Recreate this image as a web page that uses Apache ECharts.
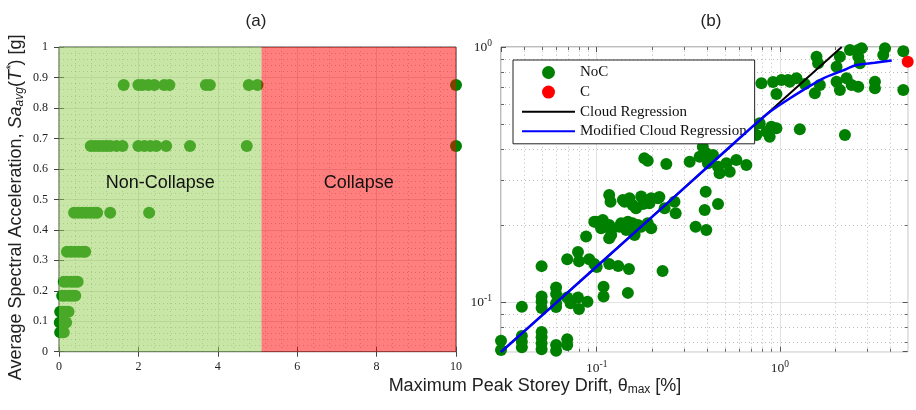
<!DOCTYPE html>
<html>
<head>
<meta charset="utf-8">
<script src="https://cdn.jsdelivr.net/npm/echarts@6/dist/echarts.min.js"></script>
<style>
  html, body { margin: 0; padding: 0; background: #ffffff; }
  #chart { width: 916px; height: 410px; }
</style>
</head>
<body>
<div id="chart"></div>
<script>
// ---------- Panel (a): stripe analysis, Sa levels and the drifts reached at each ----------
const saLevels = [0.0636, 0.096, 0.131, 0.1836, 0.2295, 0.328, 0.456, 0.675, 0.875];
const driftsAtLevel = [
  [0.03, 0.08, 0.12],
  [0.02, 0.07, 0.12, 0.18],
  [0.03, 0.08, 0.13, 0.19, 0.24],
  [0.08, 0.15, 0.25, 0.33, 0.41],
  [0.12, 0.2, 0.3, 0.38, 0.47],
  [0.2, 0.3, 0.4, 0.5, 0.6, 0.66],
  [0.38, 0.48, 0.58, 0.68, 0.78, 0.88, 0.96, 1.29, 2.27],
  [0.8, 0.9, 1.0, 1.1, 1.2, 1.3, 1.45, 1.6, 2.0, 2.15, 2.3, 2.45, 2.7, 3.3, 4.73, 10],
  [1.63, 2.0, 2.1, 2.25, 2.4, 2.65, 2.78, 3.7, 3.8, 4.78, 5.0, 10]
];
const collapseLimit = 5.1;   // drift [%] separating the two regions
const driftTicksA = [0, 10, 2]; // min, max, step

// ---------- Panel (b): cloud analysis ----------
const nocDrift = [
  0.030, 0.030, 0.039, 0.039, 0.039, 0.050, 0.050, 0.050, 0.050, 0.060, 0.060, 0.069, 0.069,
  0.039, 0.050, 0.050, 0.050, 0.060, 0.060, 0.060, 0.060, 0.069, 0.072, 0.079, 0.080, 0.089, 0.109, 0.109, 0.148,
  0.050, 0.069, 0.079, 0.080, 0.091, 0.097, 0.100, 0.117, 0.131, 0.150, 0.229,
  0.0875, 0.0993, 0.108, 0.1057, 0.1125, 0.120, 0.117, 0.120, 0.133, 0.136, 0.145, 0.148, 0.154, 0.157,
  0.161, 0.161, 0.168, 0.175, 0.190, 0.1985, 0.117, 0.097, 0.347, 0.397,
  0.117, 0.119, 0.139, 0.142, 0.151, 0.157, 0.164, 0.175, 0.179, 0.194, 0.1985, 0.216, 0.220, 0.235,
  0.266, 0.270, 0.394, 0.389, 0.46,
  0.182, 0.190, 0.240, 0.322, 0.365, 0.380, 0.397, 0.432, 0.405, 0.46, 0.511, 0.579, 0.657, 0.469, 0.533,
  0.714, 0.777, 0.746, 0.846, 0.959, 0.881, 0.90, 1.287, 2.27,
  0.794, 0.919, 1.022, 1.11, 1.234, 1.134, 0.959, 1.37, 1.555, 1.656, 2.043, 2.13, 2.317, 2.47, 2.685,
  3.311, 3.311, 4.73,
  1.588, 1.62, 2.043, 2.13, 2.417, 2.685, 2.80, 2.685, 2.742, 3.756, 3.677, 4.73
];
const nocSa = [
  0.0707, 0.065, 0.0738, 0.070, 0.0666, 0.0765, 0.0729, 0.0691, 0.0654, 0.068, 0.0645, 0.0716, 0.068,
  0.0961, 0.1052, 0.1005, 0.095, 0.1142, 0.1078, 0.0991, 0.0958, 0.1044, 0.0991, 0.1044, 0.094, 0.1005, 0.1151, 0.1052, 0.1088,
  0.1385, 0.1474, 0.1574, 0.1448, 0.1474, 0.1412, 0.1375, 0.1412, 0.1387, 0.135, 0.1325,
  0.181, 0.2069, 0.2101, 0.195, 0.1977, 0.192, 0.178, 0.1835, 0.1977, 0.2039, 0.192, 0.2069, 0.192, 0.2039,
  0.189, 0.1835, 0.2008, 0.1977, 0.2039, 0.195, 0.2008, 0.2069, 0.1977, 0.192,
  0.263, 0.2478, 0.2516, 0.2478, 0.2555, 0.2405, 0.2334, 0.2593, 0.2427, 0.2442, 0.2555, 0.2555, 0.2585, 0.2334,
  0.2478, 0.2232, 0.2711, 0.2298, 0.2427,
  0.3665, 0.3584, 0.348, 0.3553, 0.3718, 0.407, 0.3834, 0.3776, 0.3503, 0.3397, 0.3503, 0.3607, 0.345, 0.320, 0.3248,
  0.4873, 0.5025, 0.452, 0.466, 0.480, 0.445, 0.4873, 0.476, 0.452,
  0.721, 0.729, 0.743, 0.743, 0.754, 0.731, 0.654, 0.716, 0.659, 0.710, 0.731, 0.679, 0.754, 0.710, 0.699,
  0.731, 0.689, 0.679,
  0.916, 0.863, 0.837, 0.916, 0.973, 0.973, 0.988, 0.916, 0.863, 0.988, 0.930, 0.962
];
const colDrift = [5.0];
const colSa = [0.876];

const cloudDrift = [0.03, 2.18];
const cloudSa = [0.0638, 1.0];
const modDrift = [0.03, 0.1, 0.3, 0.6, 0.88, 1.1, 1.34, 1.73, 2.2, 2.63, 3.3, 4.09];
const modSa = [0.0638, 0.138, 0.28, 0.438, 0.556, 0.62, 0.678, 0.754, 0.808, 0.85, 0.867, 0.886];

const logXRange = [0.03, 5];
const logYRange = [0.064, 1];
const minorDrift = [0.04, 0.05, 0.06, 0.07, 0.08, 0.09, 0.2, 0.3, 0.4, 0.5, 0.6, 0.7, 0.8, 0.9, 2, 3, 4];
const minorSa = [0.07, 0.08, 0.09, 0.2, 0.3, 0.4, 0.5, 0.6, 0.7, 0.8, 0.9];

// ---------- styling ----------
const SERIF = '"Liberation Serif", "Times New Roman", serif';
const SANS = '"Liberation Sans", Arial, Helvetica, sans-serif';
const INK = '#222222';
const DARK_GREEN = 'rgb(0,128,0)';
const LINE_ICON = 'path://M0,0H100V4H0Z';

const leftPoints = [];
saLevels.forEach((sa, i) => driftsAtLevel[i].forEach(d => leftPoints.push([d, sa])));
const zip = (xs, ys) => xs.map((x, i) => [x, ys[i]]);

function powerLabel(v) {
  const e = Math.log10(v);
  const r = Math.round(e);
  if (Math.abs(e - r) > 1e-6) return '';
  return '10{sup|' + r + '}';
}
const powerRich = { sup: { fontFamily: SERIF, fontSize: 9.5, color: INK, padding: [0, 0, 8, 0] } };

const crisp = v => Math.round(v) + 0.5;

// dotted minor grid and inward minor ticks for the log–log panel
function minorVertical(params, api) {
  const v = api.value(0);
  const a = api.coord([v, logYRange[0]]);
  const b = api.coord([v, logYRange[1]]);
  const x = crisp(a[0]);
  return {
    type: 'group',
    children: [
      { type: 'line', shape: { x1: x, y1: a[1], x2: x, y2: b[1] }, style: { stroke: '#bdbdbd', lineWidth: 1, lineDash: [1, 3] } },
      { type: 'line', shape: { x1: x, y1: a[1], x2: x, y2: a[1] - 3 }, style: { stroke: '#666', lineWidth: 1 } },
      { type: 'line', shape: { x1: x, y1: b[1], x2: x, y2: b[1] + 3 }, style: { stroke: '#666', lineWidth: 1 } }
    ]
  };
}
function minorHorizontal(params, api) {
  const v = api.value(1);
  const a = api.coord([logXRange[0], v]);
  const b = api.coord([logXRange[1], v]);
  const y = crisp(a[1]);
  return {
    type: 'group',
    children: [
      { type: 'line', shape: { x1: a[0], y1: y, x2: b[0], y2: y }, style: { stroke: '#bdbdbd', lineWidth: 1, lineDash: [1, 3] } },
      { type: 'line', shape: { x1: a[0], y1: y, x2: a[0] + 3, y2: y }, style: { stroke: '#666', lineWidth: 1 } },
      { type: 'line', shape: { x1: b[0], y1: y, x2: b[0] - 3, y2: y }, style: { stroke: '#666', lineWidth: 1 } }
    ]
  };
}

const tickOnly = { show: false };
const linAxisA = (pos) => ({
  gridIndex: 0, type: 'value', position: pos,
  min: driftTicksA[0], max: driftTicksA[1], interval: driftTicksA[2]
});

const option = {
  animation: false,
  backgroundColor: '#ffffff',
  grid: [
    { left: 59, top: 47, width: 397, height: 304.7, show: true, borderColor: '#4a4a4a', borderWidth: 1,
      backgroundColor: 'transparent', containLabel: false, outerBoundsMode: 'none' },
    { left: 501, top: 47, width: 406.7, height: 304.7, show: true, borderColor: '#7a7a7a', borderWidth: 1,
      backgroundColor: 'transparent', containLabel: false, outerBoundsMode: 'none' }
  ],
  xAxis: [
    Object.assign(linAxisA('bottom'), {
      axisLine: { show: false },
      axisTick: { inside: true, length: 5, lineStyle: { color: '#444' } },
      axisLabel: { fontFamily: SERIF, fontSize: 12, color: INK, margin: 9 },
      splitLine: { show: true, lineStyle: { color: 'rgba(0,0,0,0.13)', width: 1 } },
      minorTick: { show: false, splitNumber: 5 },
      minorSplitLine: { show: true, lineStyle: { color: 'rgba(0,0,0,0.22)', width: 1, type: [1, 3] } }
    }),
    {
      gridIndex: 1, type: 'log', logBase: 10, min: logXRange[0], max: logXRange[1], position: 'bottom',
      axisLine: { show: false },
      axisTick: { inside: true, length: 5, lineStyle: { color: '#555' } },
      axisLabel: { fontFamily: SERIF, fontSize: 13.5, color: INK, margin: 8, formatter: powerLabel, rich: powerRich,
        showMinLabel: false, showMaxLabel: false },
      splitLine: { show: true, lineStyle: { color: '#e2e2e2', width: 1 } },
      minorTick: { show: false }
    },
    Object.assign(linAxisA('top'), {
      axisLine: { show: false }, axisLabel: tickOnly, splitLine: { show: false },
      axisTick: { inside: true, length: 5, lineStyle: { color: '#444' } }
    }),
    {
      gridIndex: 1, type: 'log', logBase: 10, min: logXRange[0], max: logXRange[1], position: 'top',
      axisLine: { show: false }, axisLabel: tickOnly, splitLine: { show: false },
      axisTick: { inside: true, length: 5, lineStyle: { color: '#555' } }
    }
  ],
  yAxis: [
    {
      gridIndex: 0, type: 'value', min: 0, max: 1, interval: 0.1, position: 'left',
      axisLine: { show: false },
      axisTick: { inside: true, length: 5, lineStyle: { color: '#444' } },
      axisLabel: { fontFamily: SERIF, fontSize: 12, color: INK, margin: 11 },
      splitLine: { show: true, lineStyle: { color: 'rgba(0,0,0,0.13)', width: 1 } },
      minorTick: { show: false, splitNumber: 5 },
      minorSplitLine: { show: true, lineStyle: { color: 'rgba(0,0,0,0.22)', width: 1, type: [1, 3] } },
      name: 'Average Spectral Acceleration, {i|Sa}{sub|avg}({i|T}{sup|*}) [g]',
      nameLocation: 'middle', nameRotate: 90, nameGap: 33,
      nameTextStyle: {
        fontFamily: SANS, fontSize: 18, color: INK, padding: [0, 16, 0, 0],
        rich: {
          i: { fontFamily: SANS, fontSize: 18, fontStyle: 'italic', color: INK },
          sub: { fontFamily: SANS, fontSize: 12, fontStyle: 'italic', color: INK, padding: [7, 0, 0, 0] },
          sup: { fontFamily: SANS, fontSize: 12, fontStyle: 'italic', color: INK, padding: [0, 0, 8, 0] }
        }
      }
    },
    {
      gridIndex: 1, type: 'log', logBase: 10, min: logYRange[0], max: logYRange[1], position: 'left',
      axisLine: { show: false },
      axisTick: { inside: true, length: 5, lineStyle: { color: '#555' } },
      axisLabel: { fontFamily: SERIF, fontSize: 13.5, color: INK, margin: 9, formatter: powerLabel, rich: powerRich,
        showMinLabel: false, showMaxLabel: true },
      splitLine: { show: true, lineStyle: { color: '#e2e2e2', width: 1 } },
      minorTick: { show: false }
    },
    {
      gridIndex: 0, type: 'value', min: 0, max: 1, interval: 0.1, position: 'right',
      axisLine: { show: false }, axisLabel: tickOnly, splitLine: { show: false },
      axisTick: { inside: true, length: 5, lineStyle: { color: '#444' } }
    },
    {
      gridIndex: 1, type: 'log', logBase: 10, min: logYRange[0], max: logYRange[1], position: 'right',
      axisLine: { show: false }, axisLabel: tickOnly, splitLine: { show: false },
      axisTick: { inside: true, length: 5, lineStyle: { color: '#555' } }
    }
  ],
  legend: {
    data: [
      { name: 'NoC', icon: 'circle' },
      { name: 'C', icon: 'circle' },
      { name: 'Cloud Regression', icon: LINE_ICON },
      { name: 'Modified Cloud Regression', icon: LINE_ICON }
    ],
    orient: 'vertical', left: 513, top: 60,
    padding: [5, 8, 5, 9], itemGap: 4.6, itemWidth: 53, itemHeight: 13,
    backgroundColor: '#ffffff', borderColor: '#222222', borderWidth: 1, borderRadius: 0,
    selectedMode: false,
    textStyle: { fontFamily: SERIF, fontSize: 15, color: '#111111' }
  },
  graphic: [
    { type: 'text', x: 256, y: 21, silent: true,
      style: { text: '(a)', fontFamily: SANS, fontSize: 17, fill: INK, align: 'center', verticalAlign: 'middle' } },
    { type: 'text', x: 711, y: 21, silent: true,
      style: { text: '(b)', fontFamily: SANS, fontSize: 17, fill: INK, align: 'center', verticalAlign: 'middle' } },
    { type: 'text', x: 535, y: 386, silent: true,
      style: {
        text: 'Maximum Peak Storey Drift, θ{sub|max} [%]',
        fontFamily: SANS, fontSize: 18, fill: INK, align: 'center', verticalAlign: 'middle',
        rich: { sub: { fontFamily: SANS, fontSize: 12, fill: INK, padding: [7, 0, 0, 0] } }
      } }
  ],
  series: [
    {
      name: 'Stripes', type: 'scatter', xAxisIndex: 0, yAxisIndex: 0,
      data: leftPoints, symbol: 'circle', symbolSize: 12, clip: false, silent: true,
      itemStyle: { color: DARK_GREEN, opacity: 1 },
      markArea: {
        silent: true, z: 5,
        label: { show: true, position: 'inside', offset: [0, -16], fontFamily: SANS, fontSize: 18, color: '#111111', formatter: '{b}' },
        data: [
          [ { name: 'Non-Collapse', xAxis: driftTicksA[0], yAxis: 0, itemStyle: { color: 'rgba(146,208,80,0.5)', opacity: 1 } },
            { xAxis: collapseLimit, yAxis: 1 } ],
          [ { name: 'Collapse', xAxis: collapseLimit, yAxis: 0, itemStyle: { color: 'rgba(255,0,0,0.5)', opacity: 1 } },
            { xAxis: driftTicksA[1], yAxis: 1 } ]
        ]
      }
    },
    {
      name: 'minor-x', type: 'custom', xAxisIndex: 1, yAxisIndex: 1, silent: true, z: 1,
      renderItem: minorVertical, data: minorDrift.map(v => [v, 1])
    },
    {
      name: 'minor-y', type: 'custom', xAxisIndex: 1, yAxisIndex: 1, silent: true, z: 1,
      renderItem: minorHorizontal, data: minorSa.map(v => [1, v])
    },
    {
      name: 'NoC', type: 'scatter', xAxisIndex: 1, yAxisIndex: 1,
      data: zip(nocDrift, nocSa), symbol: 'circle', symbolSize: 12, clip: false,
      itemStyle: { color: DARK_GREEN, opacity: 1 }
    },
    {
      name: 'C', type: 'scatter', xAxisIndex: 1, yAxisIndex: 1,
      data: zip(colDrift, colSa), symbol: 'circle', symbolSize: 12, clip: false,
      itemStyle: { color: 'rgb(255,0,0)', opacity: 1 }
    },
    {
      name: 'Cloud Regression', type: 'line', xAxisIndex: 1, yAxisIndex: 1,
      data: zip(cloudDrift, cloudSa), symbol: 'none', z: 3,
      lineStyle: { color: '#000000', width: 2 }, itemStyle: { color: '#000000' }
    },
    {
      name: 'Modified Cloud Regression', type: 'line', xAxisIndex: 1, yAxisIndex: 1,
      data: zip(modDrift, modSa), symbol: 'none', smooth: 0.3, z: 4,
      lineStyle: { color: 'rgb(0,0,255)', width: 2.5 }, itemStyle: { color: 'rgb(0,0,255)' }
    }
  ]
};

const chart = echarts.init(document.getElementById('chart'), null, { renderer: 'canvas' });
chart.setOption(option);
</script>
</body>
</html>
